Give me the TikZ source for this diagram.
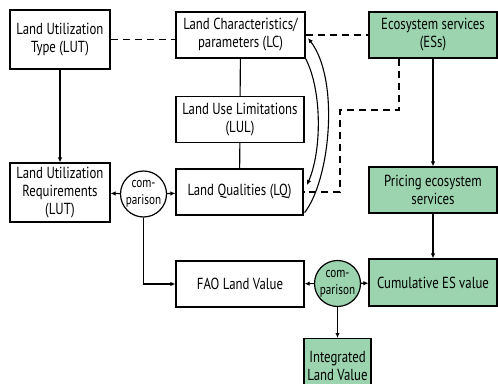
\documentclass[tikz,border=0pt]{standalone}
\usepackage{fontspec}
\setmainfont{PT Sans}[FakeStretch=0.8]
\usetikzlibrary{arrows.meta,calc}
\definecolor{esgreen}{RGB}{155,212,174}
\tikzset{
  box/.style={draw, line width=1.2pt, fill=white, align=center, inner sep=1pt,
    font=\fontsize{16}{18}\selectfont},
  gbox/.style={box, fill=esgreen},
  cmp/.style={draw, circle, line width=1.2pt, fill=white, minimum size=46pt, inner sep=0pt,
    align=center, font=\fontsize{14}{17}\selectfont},
  gcmp/.style={cmp, fill=esgreen},
  conn/.style={line width=1.1pt},
  arr/.style={conn, -{Latex[length=5pt,width=4.5pt]}},
  dconn/.style={conn, dash pattern=on 7pt off 5pt}
}
\begin{document}
\begin{tikzpicture}[x=1pt,y=-1pt]
\useasboundingbox (0,0) rectangle (498,383);
\clip (0,0) rectangle (498,383);
\node[box, minimum width=100pt, minimum height=59pt] (lut) at (60,39.5) {Land Utilization\\Type (LUT)};
\node[box, minimum width=129pt, minimum height=46pt] (lc) at (240.5,35) {Land Characteristics/\\parameters (LC)};
\node[box, minimum width=128pt, minimum height=46pt] (lul) at (240,119.5) {Land Use Limitations\\(LUL)};
\node[box, minimum width=127pt, minimum height=46pt] (lq) at (239.5,192) {Land Qualities (LQ)};
\node[box, minimum width=100pt, minimum height=59pt] (lur) at (60,192.5) {Land Utilization\\Requirements\\(LUT)};
\node[cmp] (c1) at (143.5,194) {com-\\parison};
\node[box, minimum width=128pt, minimum height=46pt] (fao) at (240,284) {FAO Land Value};
\node[gbox, minimum width=128pt, minimum height=46pt] (es) at (433,35) {Ecosystem services\\(ESs)};
\node[gbox, minimum width=128pt, minimum height=46pt] (pr) at (433,190) {Pricing ecosystem\\services};
\node[gbox, minimum width=128pt, minimum height=47pt] (cu) at (433,282.5) {Cumulative ES value};
\node[gcmp] (c2) at (337.5,283.5) {com-\\parison};
\node[gbox, minimum width=67pt, minimum height=54pt, anchor=north] (iv) at (337.5,338) {Integrated\\Land Value};

\coordinate (d1) at (399,110);
\coordinate (d2) at (340,110);

\draw[arr] (lut) -- (lur);
\draw[dconn] (lut.east) -- (lut.east -| lc.west);
\draw[dconn] (lc.east) -- (lc.east -| es.west);
\draw[conn] (lc) -- (lul);
\draw[conn] (lul) -- (lq);
\draw[dconn] (es.south -| d1) -- (d1) -- (d2) -- (d2 |- lq.east) -- (lq.east);
\draw[arr] (es) -- (pr);
\draw[arr] (pr) -- (cu);
\draw[arr] (c1) -- (lur);
\draw[arr] (c1) -- (lq);
\draw[arr] (c1.south) |- (fao.west);
\draw[arr] (c2) -- (fao);
\draw[arr] (c2) -- (cu);
\draw[arr] (c2) -- (iv);
\draw[arr] (lq.south east) ++(1,-3) .. controls (330,180) and (340,80) .. (308,38);
\draw[arr] (lc.south east) ++(0,0) .. controls (322,90) and (322,150) .. (307,185);
\end{tikzpicture}
\end{document}
